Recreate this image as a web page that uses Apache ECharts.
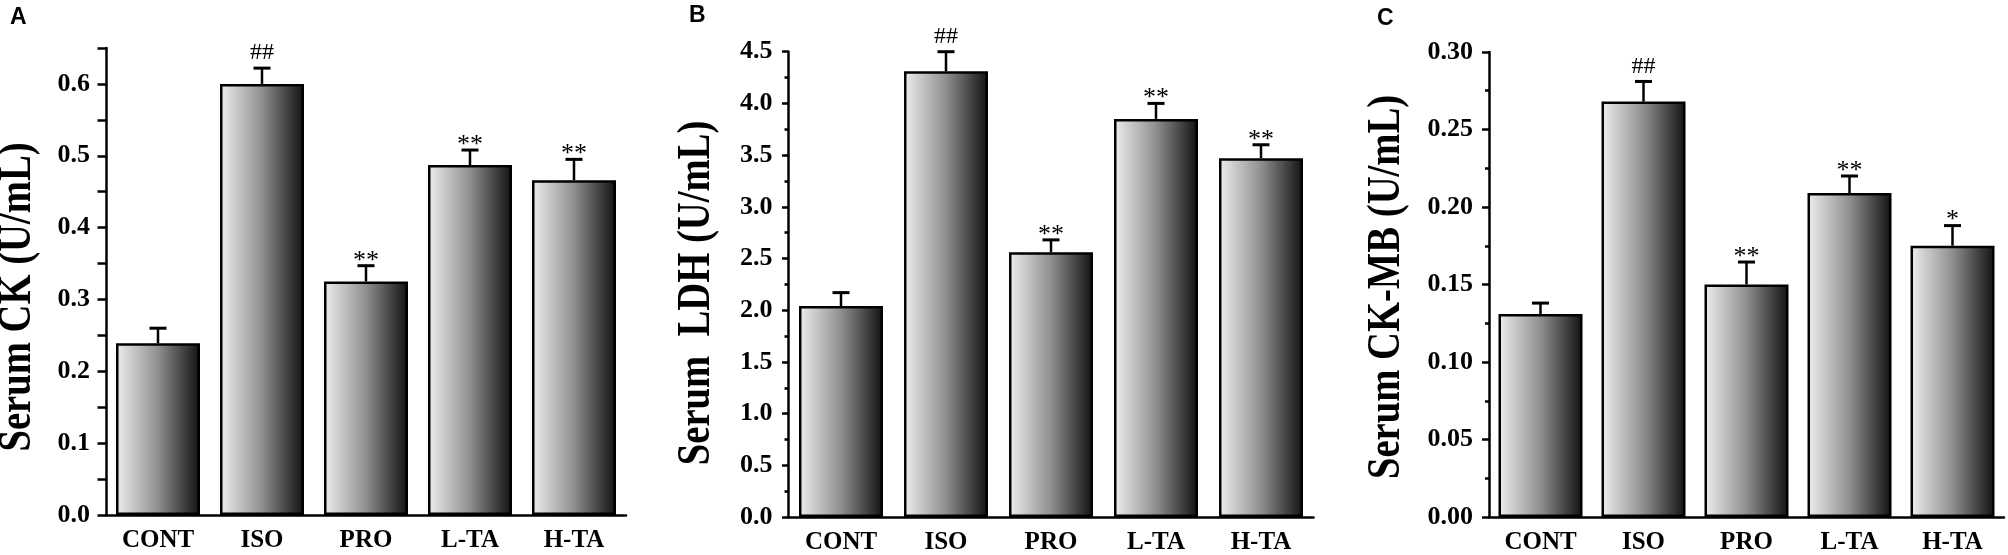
<!DOCTYPE html>
<html>
<head>
<meta charset="utf-8">
<script src="https://cdn.jsdelivr.net/npm/echarts@6/dist/echarts.min.js"></script>
<style>
html,body{margin:0;padding:0;background:#fff;}
#chart{width:2008px;height:555px;}
</style>
</head>
<body>
<div id="chart"></div>
<script>
// ---- data ----
const categories = ['CONT', 'ISO', 'PRO', 'L-TA', 'H-TA'];

const ckMean = [0.239, 0.600, 0.325, 0.487, 0.466];
const ckSd   = [0.021, 0.022, 0.022, 0.021, 0.029];
const ckMarks = ['', '##', '**', '**', '**'];
const ckTicks = ['0.0', '0.1', '0.2', '0.3', '0.4', '0.5', '0.6'];

const ldhMean = [2.04, 4.31, 2.56, 3.85, 3.47];
const ldhSd   = [0.13, 0.19, 0.12, 0.15, 0.13];
const ldhMarks = ['', '##', '**', '**', '**'];
const ldhTicks = ['0.0', '0.5', '1.0', '1.5', '2.0', '2.5', '3.0', '3.5', '4.0', '4.5'];

const ckmbMean = [0.131, 0.268, 0.150, 0.209, 0.175];
const ckmbSd   = [0.007, 0.013, 0.0145, 0.011, 0.013];
const ckmbMarks = ['', '##', '**', '**', '*'];
const ckmbTicks = ['0.00', '0.05', '0.10', '0.15', '0.20', '0.25', '0.30'];

const panelLetters = ['A', 'B', 'C'];
const yTitles = ['Serum CK (U/mL)', 'Serum  LDH (U/mL)', 'Serum CK-MB (U/mL)'];

// ---- styling ----
const SERIF = '"Liberation Serif", "Times New Roman", serif';
const barGradient = {
  type: 'linear', x: 0, y: 0, x2: 1, y2: 0,
  colorStops: [
    { offset: 0, color: '#eeeeee' },
    { offset: 0.5, color: '#8f8f8f' },
    { offset: 1, color: '#111111' }
  ]
};

const grids = [
  { left: 106, top: 48, width: 520, height: 467 },
  { left: 788.5, top: 51.7, width: 525, height: 466.8 },
  { left: 1489, top: 52, width: 515, height: 465 }
];

function tickFormatter(ticks) {
  return function (v) {
    for (const t of ticks) {
      if (Math.abs(parseFloat(t) - v) < 1e-9) return t;
    }
    return '';
  };
}

const yAxes = [
  { min: 0, max: 0.65, interval: 0.05, tickLen: 8.5, minor: false, ticks: ckTicks },
  { min: 0, max: 4.5, interval: 0.5, tickLen: 6.5, minor: true, minorLen: 4, ticks: ldhTicks },
  { min: 0, max: 0.30, interval: 0.05, tickLen: 7, minor: true, minorLen: 4, ticks: ckmbTicks }
];

const panels = [
  { mean: ckMean, sd: ckSd, marks: ckMarks },
  { mean: ldhMean, sd: ldhSd, marks: ldhMarks },
  { mean: ckmbMean, sd: ckmbSd, marks: ckmbMarks }
];

function errRender(marks) {
  return function (params, api) {
    const i = api.value(0);
    const v = api.value(1);
    const e = api.value(2);
    const p0 = api.coord([i, v]);
    const p1 = api.coord([i, e]);
    const children = [
      { type: 'line', shape: { x1: p0[0], y1: p0[1], x2: p1[0], y2: p1[1] },
        style: { stroke: '#000', lineWidth: 2.5 } },
      { type: 'line', shape: { x1: p1[0] - 8.5, y1: p1[1], x2: p1[0] + 8.5, y2: p1[1] },
        style: { stroke: '#000', lineWidth: 3 } }
    ];
    const m = marks[i];
    if (m) {
      const isHash = m.indexOf('#') >= 0;
      children.push({
        type: 'text',
        x: p1[0], y: p1[1] + (isHash ? -3 : 8),
        style: {
          text: m, fill: '#000',
          font: (isHash ? '24px ' : '26px ') + SERIF,
          textAlign: 'center', textVerticalAlign: 'bottom'
        }
      });
    }
    return { type: 'group', children: children };
  };
}

const option = {
  backgroundColor: '#fff',
  animation: false,
  grid: grids.map(g => Object.assign({ containLabel: false }, g)),
  xAxis: grids.map((g, k) => ({
    type: 'category', gridIndex: k, data: categories,
    axisLine: { lineStyle: { color: '#000', width: 2.5 } },
    axisTick: { show: false },
    axisLabel: { color: '#000', fontFamily: SERIF, fontWeight: 'bold', fontSize: 25, margin: 13 },
    splitLine: { show: false }
  })),
  yAxis: yAxes.map((a, k) => ({
    type: 'value', gridIndex: k, min: a.min, max: a.max, interval: a.interval,
    axisLine: { show: true, lineStyle: { color: '#000', width: 2.5 } },
    axisTick: { show: true, length: a.tickLen, lineStyle: { color: '#000', width: 2.5 } },
    minorTick: { show: a.minor, splitNumber: 2, length: a.minorLen || 4, lineStyle: { color: '#000', width: 2.5 } },
    axisLabel: { color: '#000', fontFamily: SERIF, fontWeight: 'bold', fontSize: 26, margin: 16,
                 formatter: tickFormatter(a.ticks) },
    splitLine: { show: false },
    minorSplitLine: { show: false }
  })),
  series: [],
  graphic: []
};

panels.forEach((p, k) => {
  option.series.push({
    type: 'bar', xAxisIndex: k, yAxisIndex: k,
    data: p.mean,
    barWidth: 84,
    itemStyle: { color: barGradient, borderColor: '#000', borderWidth: 2.5 },
    z: 2
  });
  option.series.push({
    type: 'custom', xAxisIndex: k, yAxisIndex: k,
    renderItem: errRender(p.marks),
    data: p.mean.map((m, i) => [i, m, m + p.sd[i]]),
    z: 3
  });
});

const titlePos = [[18, 297], [697, 293], [1387, 287]];
const letterPos = [[10, 6], [689, 4], [1377, 7]];
yTitles.forEach((t, k) => {
  option.graphic.push({
    type: 'text', x: titlePos[k][0], y: titlePos[k][1],
    rotation: Math.PI / 2, scaleX: 0.84,
    style: { text: t, fill: '#000', font: 'bold 46px ' + SERIF,
             textAlign: 'center', textVerticalAlign: 'middle' }
  });
  option.graphic.push({
    type: 'text', x: letterPos[k][0], y: letterPos[k][1],
    style: { text: panelLetters[k], fill: '#000', font: 'bold 23px "Liberation Sans", Arial, sans-serif',
             textAlign: 'left', textVerticalAlign: 'top' }
  });
});

const chart = echarts.init(document.getElementById('chart'), null, { renderer: 'canvas' });
chart.setOption(option);
</script>
</body>
</html>
